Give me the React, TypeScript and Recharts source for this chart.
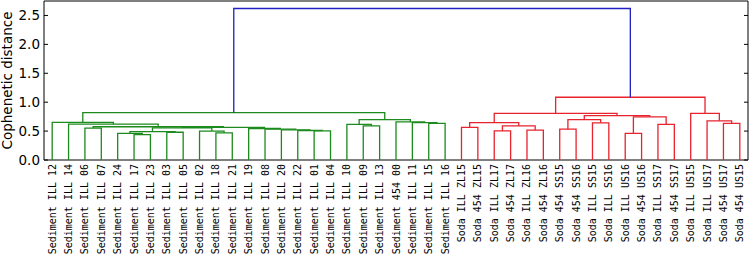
import { LineChart, Line, XAxis, YAxis, ReferenceArea } from 'recharts'

// leaf labels, left to right
const leafLabels = [
  'Sediment ILL 12', 'Sediment ILL 14', 'Sediment ILL 06', 'Sediment ILL 07', 'Sediment ILL 24',
  'Sediment ILL 17', 'Sediment ILL 23', 'Sediment ILL 03', 'Sediment ILL 05', 'Sediment ILL 02',
  'Sediment ILL 18', 'Sediment ILL 21', 'Sediment ILL 19', 'Sediment ILL 08', 'Sediment ILL 20',
  'Sediment ILL 22', 'Sediment ILL 01', 'Sediment ILL 04', 'Sediment ILL 10', 'Sediment ILL 09',
  'Sediment ILL 13', 'Sediment 454 00', 'Sediment ILL 11', 'Sediment ILL 15', 'Sediment ILL 16',
  'Soda ILL ZL15', 'Soda 454 ZL15', 'Soda ILL ZL17', 'Soda 454 ZL17', 'Soda ILL ZL16',
  'Soda 454 ZL16', 'Soda 454 SS15', 'Soda 454 SS16', 'Soda ILL SS15', 'Soda ILL SS16',
  'Soda ILL US16', 'Soda 454 US16', 'Soda ILL SS17', 'Soda 454 SS17', 'Soda ILL US15',
  'Soda ILL US17', 'Soda 454 US17', 'Soda 454 US15',
]

// linkage: [childA, childB, height]; ids < 43 are leaves, merge k gets id 43 + k
const linkage: [number, number, number][] = [
  [5, 6, 0.44], [4, 43, 0.46], [7, 8, 0.48], [44, 45, 0.49], [10, 11, 0.47],
  [9, 47, 0.5], [46, 48, 0.557], [16, 17, 0.505], [15, 50, 0.51], [14, 51, 0.52],
  [13, 52, 0.535], [12, 53, 0.545], [49, 54, 0.565], [2, 3, 0.55], [56, 55, 0.575],
  [1, 57, 0.62], [0, 58, 0.65], [19, 20, 0.59], [18, 60, 0.615], [23, 24, 0.632],
  [22, 62, 0.645], [21, 63, 0.66], [61, 64, 0.7], [59, 65, 0.82],
  [25, 26, 0.565], [27, 28, 0.503], [29, 30, 0.518], [68, 69, 0.59], [67, 70, 0.648],
  [31, 32, 0.533], [33, 34, 0.643], [72, 73, 0.697], [35, 36, 0.46], [37, 38, 0.615],
  [75, 76, 0.747], [74, 77, 0.767], [71, 78, 0.805], [41, 42, 0.632], [40, 80, 0.678],
  [39, 81, 0.805], [79, 82, 1.085], [66, 83, 2.62],
]

const yTicks = [0, 0.5, 1, 1.5, 2, 2.5]
const SEDIMENT_COUNT = 25

const GREEN = '#1d8a1d'
const RED = '#e8232d'
const BLUE = '#1f1fc4'
const PLOT_LEFT = 44
const PLOT_RIGHT = 748

const n = leafLabels.length
const leafTicks = leafLabels.map((_, i) => 5 + 10 * i)

type Node = { x: number; h: number; minLeaf: number }
const nodes: Node[] = leafLabels.map((_, i) => ({ x: 5 + 10 * i, h: 0, minLeaf: i }))
const links = linkage.map(([a, b, h]) => {
  const A = nodes[a]
  const B = nodes[b]
  nodes.push({ x: (A.x + B.x) / 2, h, minLeaf: Math.min(A.minLeaf, B.minLeaf) })
  const color = h > 1.5 ? BLUE : Math.min(A.minLeaf, B.minLeaf) < SEDIMENT_COUNT ? GREEN : RED
  return {
    color,
    pts: [
      { x: A.x, y: A.h },
      { x: A.x, y: h },
      { x: B.x, y: h },
      { x: B.x, y: B.h },
    ],
  }
})

function LeafTick({ x, y, payload }: any) {
  const idx = Math.round((payload.value - 5) / 10)
  return (
    <text
      x={x}
      y={y}
      dy={3.5}
      transform={`rotate(-90 ${x} ${y})`}
      textAnchor="end"
      fontFamily="DejaVu Sans Mono"
      fontSize={10}
      fill="#000"
    >
      {leafLabels[idx]}
    </text>
  )
}

function DistTick({ x, y, payload }: any) {
  return (
    <g>
      <text x={x} y={y} dy={4.8} textAnchor="end" fontFamily="DejaVu Sans" fontSize={13.5} fill="#000">
        {payload.value.toFixed(1)}
      </text>
      <line x1={PLOT_LEFT} x2={PLOT_LEFT + 4} y1={y} y2={y} stroke="#000" />
      <line x1={PLOT_RIGHT - 4} x2={PLOT_RIGHT} y1={y} y2={y} stroke="#000" />
    </g>
  )
}

function DistLabel({ viewBox }: any) {
  const cy = viewBox.y + viewBox.height / 2
  return (
    <text
      x={11.5}
      y={cy}
      transform={`rotate(-90 11.5 ${cy})`}
      textAnchor="middle"
      fontFamily="DejaVu Sans"
      fontSize={13.5}
      fill="#000"
    >
      Cophenetic distance
    </text>
  )
}

export default function App() {
  return (
    <div style={{ position: 'absolute', left: 0, top: 0, background: '#fff' }}>
      <LineChart width={750} height={258} margin={{ top: 1, right: 2, bottom: 0, left: 0 }}>
        <XAxis
          type="number"
          dataKey="x"
          domain={[0, n * 10]}
          ticks={leafTicks}
          interval={0}
          height={98}
          tickSize={0}
          tickMargin={4}
          tickLine={false}
          axisLine={false}
          tick={<LeafTick />}
        />
        <YAxis
          type="number"
          domain={[0, 2.75]}
          ticks={yTicks}
          width={44}
          tickSize={0}
          tickMargin={4}
          tickLine={false}
          axisLine={false}
          tick={<DistTick />}
          label={<DistLabel />}
        />
        <ReferenceArea
          x1={0}
          x2={n * 10}
          y1={0}
          y2={2.75}
          fill="none"
          stroke="#000"
          strokeWidth={1}
          ifOverflow="visible"
        />
        {links.map((l, i) => (
          <Line
            key={i}
            data={l.pts}
            dataKey="y"
            type="linear"
            stroke={l.color}
            strokeWidth={1.3}
            dot={false}
            activeDot={false}
            legendType="none"
            isAnimationActive={false}
          />
        ))}
      </LineChart>
    </div>
  )
}
